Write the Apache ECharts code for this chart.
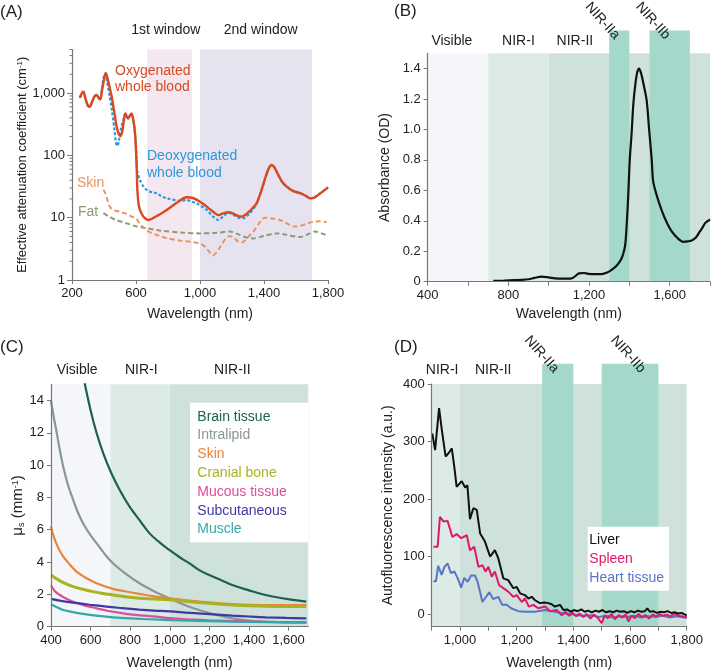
<!DOCTYPE html>
<html>
<head>
<meta charset="utf-8">
<script src="https://cdn.jsdelivr.net/npm/echarts@6/dist/echarts.min.js"></script>
<style>
  html, body { margin: 0; padding: 0; background: #fff; }
  #optics { width: 711px; height: 672px; }
</style>
</head>
<body>
<div id="optics"></div>
<script>
// ---------- data ----------
// (A) effective attenuation, [wavelength nm, cm^-1]
const windowSpansA = [[670, 950], [1000, 1700]];
const windowNamesA = ['1st window', '2nd window'];
const oxyBlood = [[250,840],[260,980],[271,1050],[285,800],[298,640],[310,600],[325,720],[340,880],[354,930],[366,850],[376,790],[390,1200],[403,1800],[412,2100],[425,1600],[438,1150],[448,880],[465,480],[479,290],[492,220],[504,205],[515,250],[525,380],[533,470],[543,420],[552,395],[563,440],[573,470],[585,350],[594,226],[600,120],[604,70],[607,35],[610,24],[617,16],[625,13.3],[640,11],[660,9.6],[677,9.2],[700,9.6],[740,11],[792,13.3],[850,17],[917,21.3],[960,20.5],[1000,18],[1050,14.5],[1090,12],[1114,11],[1145,11.7],[1177,12.2],[1215,11.4],[1240,10.6],[1260,10.4],[1290,11.5],[1320,13.5],[1354,17],[1385,28],[1410,45],[1430,62],[1448,70],[1465,64],[1490,48],[1515,37],[1542,31.5],[1580,27],[1625,24.7],[1660,22.5],[1687,20.5],[1710,20.8],[1729,22.3],[1760,25.5],[1785,28.5],[1800,30.6]];
const deoxyBlood = [[250,840],[260,980],[271,1040],[285,790],[298,630],[310,595],[325,710],[340,870],[354,920],[366,840],[376,780],[388,1200],[400,1900],[408,2050],[420,1500],[435,900],[450,520],[465,260],[475,160],[483,141],[493,170],[505,260],[515,330],[525,400],[533,460],[543,410],[552,390],[563,430],[573,460],[585,340],[594,220],[600,140],[604,70],[610,52],[625,40],[645,32],[667,28],[700,25.5],[729,24.7],[760,22],[792,20.5],[875,18.7],[917,19.2],[950,18],[979,17],[1042,13.3],[1080,10.5],[1114,9.2],[1145,10.5],[1177,12],[1210,11],[1240,10],[1270,9.8],[1300,11],[1330,13.5],[1354,17],[1385,28],[1410,45],[1430,62],[1448,70],[1465,64],[1490,48],[1515,37],[1542,31.5],[1580,27],[1625,24.7],[1660,22.5],[1687,20.5],[1710,20.8],[1729,22.3],[1760,25.5],[1785,28.5],[1800,30.6]];
const skinAtten = [[396,28],[410,24],[425,18],[440,14.5],[458,13.3],[480,12.8],[500,12.5],[520,12],[542,11.5],[570,10.5],[590,10],[604,9.5],[625,8],[645,7],[677,6],[720,5.4],[792,4.7],[870,4.3],[958,4.05],[990,3.9],[1021,3.6],[1045,3.1],[1065,2.7],[1083,2.5],[1100,2.7],[1120,3.2],[1135,3.7],[1160,4.6],[1187,5.1],[1210,4.8],[1235,4.2],[1260,4.0],[1285,4.4],[1310,5.2],[1333,6],[1360,7.5],[1385,9.2],[1406,10],[1440,9.8],[1470,9.5],[1500,9.2],[1540,8.2],[1583,7.2],[1620,7.3],[1660,7.9],[1708,8.6],[1750,8.8],[1792,8.4]];
const fatAtten = [[396,11.8],[430,10.5],[470,9.3],[542,8.1],[600,7.3],[677,6.7],[750,6.2],[896,5.75],[1000,5.6],[1100,5.7],[1187,6],[1240,5.4],[1280,4.9],[1333,4.65],[1400,5.1],[1479,5.6],[1540,5.3],[1625,4.9],[1680,5.5],[1719,6],[1760,5.6],[1802,5.1]];

// (B) absorbance, [wavelength nm, OD]
const bandSpansB = [[400,700],[700,1000],[1000,1800],[1300,1400],[1500,1700]];
const bandNamesB = ['Visible','NIR-I','NIR-II','NIR-IIa','NIR-IIb'];
const absorbance = [[725,0.005],[780,0.007],[830,0.01],[866,0.012],[900,0.016],[930,0.025],[965,0.033],[1000,0.028],[1031,0.022],[1070,0.02],[1114,0.022],[1135,0.04],[1150,0.055],[1175,0.057],[1196,0.052],[1230,0.05],[1263,0.05],[1290,0.06],[1312,0.077],[1340,0.11],[1362,0.154],[1375,0.21],[1381,0.26],[1388,0.4],[1395,0.58],[1402,0.8],[1411,0.97],[1420,1.17],[1431,1.31],[1440,1.38],[1448,1.4],[1458,1.37],[1470,1.3],[1486,1.19],[1498,1.0],[1511,0.8],[1518,0.66],[1535,0.57],[1560,0.47],[1585,0.39],[1610,0.33],[1640,0.285],[1667,0.262],[1690,0.265],[1709,0.27],[1730,0.29],[1750,0.33],[1765,0.36],[1775,0.383],[1790,0.4],[1800,0.41]];

// (C) scattering coefficient, [wavelength nm, mm^-1]
const bandSpansC = [[400,700],[700,1000],[1000,1700]];
const bandNamesC = ['Visible','NIR-I','NIR-II'];
const tissueNames = ['Brain tissue','Intralipid','Skin','Cranial bone','Mucous tissue','Subcutaneous','Muscle'];
const brainTissue = [[568,15.2],[600,13.4],[630,12.0],[665,10.7],[705,9.5],[750,8.4],[797,7.43],[850,6.55],[897,5.79],[950,5.2],[998,4.75],[1050,4.3],[1098,3.93],[1149,3.5],[1200,3.2],[1260,2.88],[1316,2.58],[1400,2.25],[1484,1.96],[1590,1.72],[1690,1.55]];
const intralipid = [[400,14],[412,13.1],[429,12.0],[445,10.9],[462,9.9],[485,8.8],[512,7.85],[535,7.1],[562,6.4],[595,5.75],[630,5.17],[670,4.52],[713,3.93],[780,3.25],[847,2.69],[920,2.2],[998,1.76],[1098,1.24],[1149,1.03],[1230,0.75],[1316,0.52],[1400,0.38],[1484,0.31],[1580,0.27],[1690,0.25]];
const skinScatter = [[400,6.2],[408,5.8],[420,5.37],[440,4.8],[462,4.34],[495,3.85],[529,3.41],[580,3.0],[630,2.69],[713,2.34],[780,2.18],[847,2.03],[920,1.88],[998,1.76],[1149,1.55],[1316,1.4],[1484,1.34],[1690,1.34]];
const cranialBone = [[400,3.2],[450,2.8],[512,2.48],[600,2.2],[680,2.03],[760,1.88],[847,1.76],[920,1.72],[1000,1.67],[1100,1.55],[1200,1.45],[1316,1.35],[1484,1.27],[1690,1.25]];
const mucousTissue = [[400,2.55],[420,2.2],[445,1.96],[475,1.75],[512,1.55],[560,1.35],[630,1.14],[690,0.97],[763,0.83],[840,0.72],[931,0.62],[1000,0.53],[1098,0.46],[1200,0.4],[1316,0.35],[1484,0.3],[1690,0.28]];
const subcutaneous = [[400,1.72],[450,1.6],[512,1.49],[596,1.36],[680,1.24],[760,1.15],[847,1.06],[920,1.0],[1000,0.95],[1100,0.85],[1200,0.78],[1316,0.69],[1400,0.63],[1484,0.58],[1590,0.54],[1690,0.52]];
const muscle = [[400,1.39],[430,1.2],[462,1.03],[510,0.9],[562,0.79],[640,0.67],[713,0.58],[800,0.51],[897,0.46],[1000,0.41],[1098,0.37],[1200,0.34],[1316,0.31],[1484,0.28],[1690,0.26]];

// (D) autofluorescence, [wavelength nm, a.u.]
const bandSpansD = [[900,1000],[1000,1800],[1290,1400],[1500,1700]];
const bandNamesD = ['NIR-I','NIR-II','NIR-IIa','NIR-IIb'];
const organNames = ['Liver','Spleen','Heart tissue'];
const liver = [[902,314],[912,285],[926,358],[935,323],[949,274],[960,280],[971,288],[980,255],[988,221],[1006,231],[1018,220],[1026,224],[1035,165],[1047,184],[1059,181],[1071,140],[1088,126],[1106,100],[1123,111],[1135,97],[1153,62],[1170,59],[1188,45],[1200,47],[1212,36],[1229,33],[1241,27],[1253,30],[1265,24],[1282,19],[1297,20],[1312,19],[1323,17],[1335,13],[1353,16],[1365,7],[1378,8],[1390,4],[1402,7],[1415,5],[1428,8],[1440,4],[1452,6],[1465,3],[1478,6],[1490,4],[1503,7],[1515,3],[1528,5],[1540,3],[1553,6],[1565,4],[1578,5],[1590,2],[1603,5],[1615,3],[1628,6],[1640,4],[1652,5],[1661,10],[1670,4],[1682,5],[1695,2],[1707,4],[1720,3],[1732,5],[1745,2],[1757,3],[1770,1],[1782,2],[1794,-1],[1800,-2]];
const spleen = [[906,117],[921,117],[929,169],[941,161],[956,162],[973,134],[988,139],[1004,132],[1024,137],[1035,111],[1050,117],[1065,82],[1079,85],[1090,74],[1100,82],[1112,65],[1123,74],[1138,50],[1153,45],[1170,39],[1188,30],[1200,33],[1218,21],[1229,27],[1243,13],[1259,16],[1276,10],[1300,13],[1318,5],[1341,7],[1359,-2],[1372,4],[1385,-3],[1398,2],[1410,-4],[1422,1],[1435,-5],[1447,0],[1460,-8],[1472,-1],[1485,-6],[1500,-16],[1510,-3],[1522,-7],[1535,0],[1547,-9],[1560,-2],[1572,-6],[1585,-1],[1594,-13],[1605,-3],[1617,-7],[1630,0],[1642,-5],[1655,-2],[1667,-8],[1680,-1],[1692,-4],[1705,0],[1717,-3],[1730,-1],[1742,-4],[1755,0],[1767,-2],[1780,-4],[1800,-5]];
const heartTissue = [[906,57],[915,57],[923,84],[935,68],[945,82],[956,88],[968,71],[980,74],[992,62],[1004,46],[1015,63],[1027,56],[1039,67],[1053,67],[1062,56],[1079,21],[1092,30],[1103,38],[1117,26],[1135,30],[1149,16],[1165,16],[1180,10],[1206,5],[1235,4],[1265,4],[1300,7],[1335,4],[1365,1],[1390,0],[1415,-2],[1440,-3],[1465,-2],[1490,-5],[1515,-3],[1540,-6],[1565,-4],[1590,-5],[1615,-3],[1640,-6],[1665,-4],[1690,-5],[1715,-3],[1740,-6],[1765,-4],[1800,-7]];

// tick labels
const minorTicksA = [2,3,4,5,6,7,8,9,20,30,40,50,60,70,80,90,200,300,400,500,600,700,800,900,2000,3000,4000,5000];
const ticksBX = [400, 800, 1200, 1600];
const ticksBY = [0, 0.2, 0.4, 0.6, 0.8, 1.0, 1.2, 1.4];
const ticksCX = [400, 600, 800, 1000, 1200, 1400, 1600];
const ticksCY = [0, 2, 4, 6, 8, 10, 12, 14];
const ticksDX = [1000, 1200, 1400, 1600, 1800];
const ticksDY = [0, 100, 200, 300, 400];

// ---------- styling ----------
const FONT = 'Liberation Sans, Arial, Helvetica, sans-serif';
const INK = '#222';
const tissueColors = ['#1d604f', '#8b9696', '#e9843f', '#a9b21f', '#e04b9c', '#3d3aa3', '#31a9ab'];
const organColors = ['#111111', '#e0186d', '#5a74c9'];
const tealBands = { vis: '#f4f6f9', nir1: '#dcebe6', nir2: '#cfe1db', deep: '#a3d8cb' };

const comma = v => String(v).replace(/\B(?=(\d{3})+(?!\d))/g, ',');
const LINE = { show: true, onZero: false, lineStyle: { color: '#777', width: 1.2 } };
const TICK = { show: true, length: 4, lineStyle: { color: '#777' } };
const LABEL = { color: INK, fontSize: 13, fontFamily: FONT, margin: 7 };
const NAME = { color: INK, fontSize: 14, fontFamily: FONT };

// shaded wavelength bands, drawn through the axes
function bandSeries(idx, spans, tops, bottom, fills) {
  return {
    type: 'custom', xAxisIndex: idx, yAxisIndex: idx, silent: true, clip: false, z: 1,
    data: spans.map((s, i) => [s[0], s[1], tops[i]]),
    encode: { x: [0, 1], y: 2 },
    renderItem: function (params, api) {
      const a = api.coord([api.value(0), api.value(2)]);
      const b = api.coord([api.value(1), bottom]);
      return {
        type: 'rect',
        shape: { x: a[0], y: a[1], width: b[0] - a[0], height: b[1] - a[1] },
        style: { fill: fills[params.dataIndex] }
      };
    }
  };
}

// band names above the plots; NIR-IIa / NIR-IIb are tilted
function labelSeries(idx, names, at, refs, dy) {
  return {
    type: 'custom', xAxisIndex: idx, yAxisIndex: idx, silent: true, clip: false, z: 4,
    data: at.map((x, i) => [x, refs[i]]),
    encode: { x: 0, y: 1 },
    renderItem: function (params, api) {
      const p = api.coord([api.value(0), api.value(1)]);
      const name = names[params.dataIndex];
      const tilted = /II[ab]$/.test(name);
      return {
        type: 'text',
        x: p[0], y: tilted ? p[1] + 7 : p[1] - dy,
        rotation: tilted ? -0.84 : 0,
        style: {
          text: name, fill: INK, fontSize: 14, fontFamily: FONT,
          align: tilted ? 'right' : 'center', verticalAlign: 'middle'
        }
      };
    }
  };
}

// small log-decade ticks on the left of panel A
function minorTickSeries(values, xAt) {
  return {
    type: 'custom', xAxisIndex: 0, yAxisIndex: 0, silent: true, clip: false, z: 5,
    data: values.map(v => [xAt, v]),
    encode: { x: 0, y: 1 },
    renderItem: function (params, api) {
      const p = api.coord([api.value(0), api.value(1)]);
      return {
        type: 'line',
        shape: { x1: p[0] - 2.5, y1: p[1], x2: p[0], y2: p[1] },
        style: { stroke: '#777', lineWidth: 1 }
      };
    }
  };
}

function curve(idx, name, data, color, width, extra) {
  return Object.assign({
    type: 'line', name: name, xAxisIndex: idx, yAxisIndex: idx, data: data,
    showSymbol: false, symbol: 'none', z: 3,
    lineStyle: { color: color, width: width }, itemStyle: { color: color }
  }, extra || {});
}

const option = {
  animation: false,
  backgroundColor: '#fff',
  textStyle: { fontFamily: FONT },
  grid: [
    { left: 72, right: 383, top: 49.5, bottom: 392, outerBoundsMode: 'none' },
    { left: 427.7, right: 1, top: 53.3, bottom: 390.3, outerBoundsMode: 'none' },
    { left: 51, right: 402.7, top: 384.3, bottom: 45.3, outerBoundsMode: 'none' },
    { left: 431.7, right: 24.3, top: 384, bottom: 45.3, outerBoundsMode: 'none' }
  ],
  xAxis: [
    { gridIndex: 0, type: 'value', min: 200, max: 1800, interval: 400, z: 5,
      axisLine: LINE, axisTick: TICK, axisLabel: { ...LABEL, formatter: comma }, splitLine: { show: false },
      name: 'Wavelength (nm)', nameLocation: 'middle', nameGap: 27, nameTextStyle: NAME },
    { gridIndex: 1, type: 'value', min: 400, max: 1800, interval: 200, z: 5,
      axisLine: LINE, axisTick: TICK, axisLabel: { ...LABEL, formatter: comma, customValues: ticksBX }, splitLine: { show: false },
      name: 'Wavelength (nm)', nameLocation: 'middle', nameGap: 25, nameTextStyle: NAME },
    { gridIndex: 2, type: 'value', min: 400, max: 1700, interval: 200, z: 5,
      axisLine: LINE, axisTick: { ...TICK, customValues: ticksCX }, axisLabel: { ...LABEL, formatter: comma, customValues: ticksCX }, splitLine: { show: false },
      name: 'Wavelength (nm)', nameLocation: 'middle', nameGap: 29, nameTextStyle: NAME },
    { gridIndex: 3, type: 'value', min: 900, max: 1800, interval: 100, z: 5,
      axisLine: LINE, axisTick: TICK, axisLabel: { ...LABEL, formatter: comma, customValues: ticksDX }, splitLine: { show: false },
      name: 'Wavelength (nm)', nameLocation: 'middle', nameGap: 29, nameTextStyle: NAME }
  ],
  yAxis: [
    { gridIndex: 0, type: 'log', logBase: 10, min: 1, max: 5000, z: 5,
      axisLine: LINE, axisTick: { ...TICK, length: 5 }, axisLabel: { ...LABEL, formatter: comma, showMaxLabel: false }, splitLine: { show: false },
      name: '{a|Effective attenuation coefficient (cm}{s|-1}{a|)}', nameLocation: 'middle', nameRotate: 90, nameGap: 38,
      nameTextStyle: { rich: { a: { ...NAME, fontSize: 13 }, s: { ...NAME, fontSize: 8, verticalAlign: 'top' } } } },
    { gridIndex: 1, type: 'value', min: 0, max: 1.5, interval: 0.2, z: 5,
      axisLine: LINE, axisTick: { ...TICK, customValues: ticksBY },
      axisLabel: { ...LABEL, customValues: ticksBY, formatter: v => (v === 0 ? '0' : v.toFixed(1)) }, splitLine: { show: false },
      name: 'Absorbance (OD)', nameLocation: 'middle', nameRotate: 90, nameGap: 36, nameTextStyle: NAME },
    { gridIndex: 2, type: 'value', min: 0, max: 15, interval: 2, z: 5,
      axisLine: LINE, axisTick: { ...TICK, customValues: ticksCY }, axisLabel: { ...LABEL, customValues: ticksCY }, splitLine: { show: false },
      name: '{a|\u03bc}{b|s}{a| (mm}{c|-1}{a|)}', nameLocation: 'middle', nameRotate: 90, nameGap: 24,
      nameTextStyle: { rich: { a: { ...NAME, fontSize: 15 }, b: { ...NAME, fontSize: 9, verticalAlign: 'bottom' }, c: { ...NAME, fontSize: 9, verticalAlign: 'top' } } } },
    { gridIndex: 3, type: 'value', min: -22, max: 400, z: 5,
      axisLine: LINE, axisTick: { ...TICK, customValues: ticksDY }, axisLabel: { ...LABEL, customValues: ticksDY }, splitLine: { show: false },
      name: 'Autofluorescence intensity (a.u.)', nameLocation: 'middle', nameRotate: 90, nameGap: 37, nameTextStyle: NAME }
  ],
  legend: [
    { orient: 'vertical', left: 192.3, top: 409.7, padding: 0, itemGap: 4.8, itemWidth: 0, itemHeight: 14,
      icon: 'none', selectedMode: false, z: 11,
      textStyle: { fontSize: 14, fontFamily: FONT },
      data: tissueNames.map((n, i) => ({ name: n, textStyle: { color: tissueColors[i] } })) },
    { orient: 'vertical', left: 584.3, top: 533, padding: 0, itemGap: 5, itemWidth: 0, itemHeight: 14,
      icon: 'none', selectedMode: false, z: 11,
      textStyle: { fontSize: 14, fontFamily: FONT },
      data: organNames.map((n, i) => ({ name: n, textStyle: { color: organColors[i] } })) }
  ],
  graphic: [
    { type: 'text', x: 0, y: 12, z: 10, style: { text: '(A)', fontSize: 17, fontFamily: FONT, fill: INK, verticalAlign: 'middle' } },
    { type: 'text', x: 394, y: 11, z: 10, style: { text: '(B)', fontSize: 17, fontFamily: FONT, fill: INK, verticalAlign: 'middle' } },
    { type: 'text', x: 0, y: 347, z: 10, style: { text: '(C)', fontSize: 17, fontFamily: FONT, fill: INK, verticalAlign: 'middle' } },
    { type: 'text', x: 394, y: 347, z: 10, style: { text: '(D)', fontSize: 17, fontFamily: FONT, fill: INK, verticalAlign: 'middle' } },
    { type: 'text', x: 115, y: 71, z: 10, style: { text: 'Oxygenated', fontSize: 14, fontFamily: FONT, fill: '#d9481f', verticalAlign: 'middle' } },
    { type: 'text', x: 115, y: 87, z: 10, style: { text: 'whole blood', fontSize: 14, fontFamily: FONT, fill: '#d9481f', verticalAlign: 'middle' } },
    { type: 'text', x: 147, y: 156, z: 10, style: { text: 'Deoxygenated', fontSize: 14, fontFamily: FONT, fill: '#2b98dc', verticalAlign: 'middle' } },
    { type: 'text', x: 147, y: 173, z: 10, style: { text: 'whole blood', fontSize: 14, fontFamily: FONT, fill: '#2b98dc', verticalAlign: 'middle' } },
    { type: 'text', x: 77, y: 183, z: 10, style: { text: 'Skin', fontSize: 14, fontFamily: FONT, fill: '#ea955d', verticalAlign: 'middle' } },
    { type: 'text', x: 78, y: 212, z: 10, style: { text: 'Fat', fontSize: 14, fontFamily: FONT, fill: '#8c9c72', verticalAlign: 'middle' } },
    { type: 'rect', z: 9, shape: { x: 190, y: 402.7, width: 118, height: 139.6 }, style: { fill: '#fff' } },
    { type: 'rect', z: 9, shape: { x: 587.7, y: 526.7, width: 81.3, height: 64 }, style: { fill: '#fff' } }
  ],
  series: [
    // (A)
    bandSeries(0, windowSpansA, [5000, 5000], 1, ['#f5e7ef', '#e7e2ef']),
    labelSeries(0, windowNamesA, [786, 1379], [5000, 5000], 19.5),
    minorTickSeries(minorTicksA, 200),
    curve(0, 'Fat attenuation', fatAtten, '#8c9c72', 2, { lineStyle: { color: '#8c9c72', width: 2, type: [5, 3] }, smooth: 0.3 }),
    curve(0, 'Skin attenuation', skinAtten, '#ea955d', 2, { lineStyle: { color: '#ea955d', width: 2, type: [5, 3] }, smooth: 0.3 }),
    curve(0, 'Deoxygenated whole blood', deoxyBlood, '#2b98dc', 2.2, { lineStyle: { color: '#2b98dc', width: 2.2, type: [3, 2] }, smooth: 0.3 }),
    curve(0, 'Oxygenated whole blood', oxyBlood, '#d9481f', 2.4, { smooth: 0.3 }),
    // (B)
    bandSeries(1, bandSpansB, [1.5, 1.5, 1.5, 1.65, 1.65], 0,
      [tealBands.vis, tealBands.nir1, tealBands.nir2, tealBands.deep, tealBands.deep]),
    labelSeries(1, bandNamesB, [520, 850, 1130, 1340, 1590], [1.5, 1.5, 1.5, 1.65, 1.65], 12.6),
    curve(1, 'Absorbance', absorbance, '#111', 2.2, { smooth: 0.3 }),
    // (C)
    bandSeries(2, bandSpansC, [15, 15, 15], 0, [tealBands.vis, tealBands.nir1, tealBands.nir2]),
    labelSeries(2, bandNamesC, [532, 856, 1316], [15, 15, 15], 14.3),
    curve(2, tissueNames[0], brainTissue, tissueColors[0], 2.2, { smooth: 0.4 }),
    curve(2, tissueNames[1], intralipid, tissueColors[1], 2.2, { smooth: 0.4 }),
    curve(2, tissueNames[2], skinScatter, tissueColors[2], 2.2, { smooth: 0.4 }),
    curve(2, tissueNames[3], cranialBone, tissueColors[3], 3, { smooth: 0.4 }),
    curve(2, tissueNames[4], mucousTissue, tissueColors[4], 2.2, { smooth: 0.4 }),
    curve(2, tissueNames[5], subcutaneous, tissueColors[5], 2.2, { smooth: 0.4 }),
    curve(2, tissueNames[6], muscle, tissueColors[6], 2.2, { smooth: 0.4 }),
    // (D)
    bandSeries(3, bandSpansD, [400, 400, 435, 435], -22,
      [tealBands.nir1, tealBands.nir2, tealBands.deep, tealBands.deep]),
    labelSeries(3, bandNamesD, [937, 1117, 1340, 1645], [400, 400, 435, 435], 14),
    curve(3, organNames[2], heartTissue, organColors[2], 2),
    curve(3, organNames[1], spleen, organColors[1], 2),
    curve(3, organNames[0], liver, organColors[0], 2)
  ]
};

const chart = echarts.init(document.getElementById('optics'));
chart.setOption(option);
window.addEventListener('resize', function () {
  chart.resize();
});
</script>
</body>
</html>
